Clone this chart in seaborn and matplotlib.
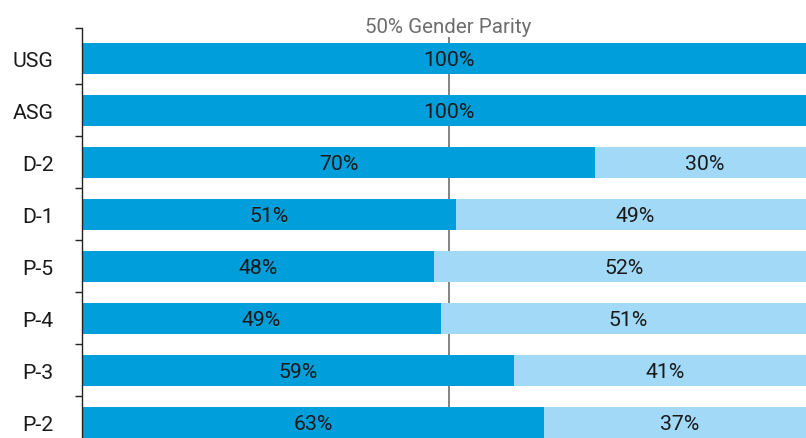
import matplotlib
matplotlib.use("Agg")
import matplotlib.pyplot as plt
import seaborn as sns
import pandas as pd

# staff share by grade, in percent
grades = ["USG", "ASG", "D-2", "D-1", "P-5", "P-4", "P-3", "P-2"]
men_pct = [100, 100, 70, 51, 48, 49, 59, 63]
women_pct = [0, 0, 30, 49, 52, 51, 41, 37]
parity_line = 50

DARK = "#009edb"
LIGHT = "#a2d9f7"
TEXT = "#1a1a1a"


def build_frame() -> pd.DataFrame:
    df = pd.DataFrame({"grade": grades, "men": men_pct, "women": women_pct})
    df["total"] = df["men"] + df["women"]
    return df


def draw(df: pd.DataFrame) -> plt.Figure:
    sns.set_style("white")
    plt.rcParams["font.family"] = ["Roboto", "DejaVu Sans"]

    fig = plt.figure(figsize=(8.06, 4.39), dpi=100)
    # axes runs past the right and bottom edge, like the cropped original
    ax = fig.add_axes([82 / 806, 0, 733 / 806, (439 - 29.3) / 439])

    sns.barplot(data=df, x="total", y="grade", color=LIGHT, width=0.59,
                saturation=1, linewidth=0, ax=ax)
    sns.barplot(data=df, x="men", y="grade", color=DARK, width=0.59,
                saturation=1, linewidth=0, ax=ax)
    for bar in ax.patches:
        bar.set_zorder(2)

    # parity line sits behind the bars
    ax.vlines(parity_line, -0.41, 7.4, color="#7a7a7a", lw=1.3, zorder=1)

    for i, row in df.iterrows():
        ax.text(row["men"] / 2, i + 0.03, f"{row['men']}%", ha="center",
                va="center", fontsize=15.3, color=TEXT, zorder=5)
        if row["women"] > 0:
            ax.text(row["men"] + row["women"] / 2, i + 0.03, f"{row['women']}%",
                    ha="center", va="center", fontsize=15.3, color=TEXT, zorder=5)

    ax.text(parity_line, -0.5, f"{parity_line}% Gender Parity", ha="center",
            va="baseline", fontsize=14.8, color="#6d6d6d")

    ax.set_xlim(0, 100)
    ax.set_ylim(7.30, -0.577)
    ax.set_xlabel("")
    ax.set_ylabel("")
    ax.set_xticks([])

    # labels at bar centres, tick marks at band boundaries
    ax.set_yticks(range(len(grades)))
    ax.set_yticklabels(grades, fontsize=15.3, color=TEXT)
    ax.tick_params(axis="y", which="major", left=False, length=0, pad=20.5)
    ax.set_yticks([-0.577] + [k + 0.5 for k in range(len(grades) - 1)], minor=True)
    ax.tick_params(axis="y", which="minor", left=True, length=5.3, width=1,
                   color="#222222")

    for side in ["top", "right", "bottom"]:
        ax.spines[side].set_visible(False)
    ax.spines["left"].set_color("#222222")
    ax.spines["left"].set_linewidth(1)

    return fig


if __name__ == "__main__":
    df = build_frame()
    fig = draw(df)
    fig.savefig("out.png", dpi=100)
